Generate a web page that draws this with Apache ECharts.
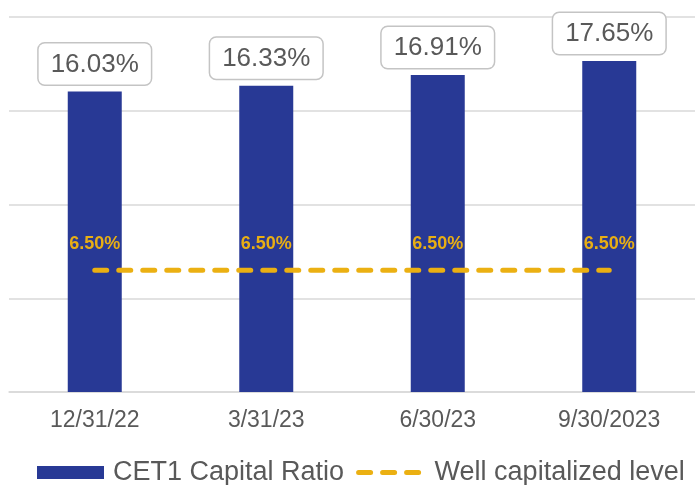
<!DOCTYPE html>
<html>
<head>
<meta charset="utf-8">
<script src="https://cdn.jsdelivr.net/npm/echarts@6/dist/echarts.min.js"></script>
<style>
    html, body { margin: 0; padding: 0; background: #ffffff; }
    #chart { width: 695px; height: 485px; }
</style>
</head>
<body>
<div id="chart"></div>
<script>
    // 季度日期
    var categories = ['12/31/22', '3/31/23', '6/30/23', '9/30/2023'];
    // CET1 比率
    var cet1Values = [16.03, 16.33, 16.91, 17.65];
    // 资本充足线
    var wellCapValues = [6.5, 6.5, 6.5, 6.5];

    var textColor = '#595959';
    var lineColor = '#EBB012';
    var fontFamily = 'Liberation Sans, Arial, sans-serif';
    var dashStyle = {
        color: lineColor,
        width: 5,
        type: [12, 12],
        cap: 'round'
    };

    var option = {
        backgroundColor: '#ffffff',
        animation: false,
        textStyle: {
            fontFamily: fontFamily
        },
        grid: {
            left: 9,
            right: 0,
            top: 17,
            bottom: 93,
            containLabel: false
        },
        legend: {
            left: 37,
            top: 459,
            padding: 0,
            itemWidth: 67,
            itemHeight: 13,
            itemGap: 12,
            textStyle: {
                fontSize: 27,
                color: textColor,
                fontFamily: fontFamily,
                padding: [0, 0, 0, 4]
            },
            data: [
                {name: 'CET1 Capital Ratio', icon: 'rect'},
                {
                    name: 'Well capitalized level',
                    lineStyle: dashStyle,
                    itemStyle: {opacity: 0}
                }
            ]
        },
        xAxis: {
            type: 'category',
            data: categories,
            axisTick: {
                show: false
            },
            axisLine: {
                lineStyle: {
                    color: '#d9d9d9',
                    width: 1.5
                }
            },
            axisLabel: {
                color: textColor,
                fontSize: 23,
                margin: 17,
                fontFamily: fontFamily
            }
        },
        yAxis: {
            type: 'value',
            min: 0,
            max: 20,
            interval: 5,
            axisLabel: {
                show: false
            },
            axisLine: {
                show: false
            },
            axisTick: {
                show: false
            },
            splitLine: {
                lineStyle: {
                    color: '#d9d9d9',
                    width: 1.5
                }
            }
        },
        series: [
            {
                name: 'CET1 Capital Ratio',
                type: 'bar',
                data: cet1Values,
                barWidth: 54,
                itemStyle: {
                    color: '#283995'
                },
                label: {
                    show: true,
                    position: 'top',
                    distance: 7,
                    fontSize: 26,
                    color: textColor,
                    fontFamily: fontFamily,
                    backgroundColor: '#ffffff',
                    borderColor: '#c4c4c4',
                    borderWidth: 1.5,
                    borderRadius: 6,
                    padding: [8, 12, 7, 12],
                    formatter: function (p) {
                        return p.value.toFixed(2) + '%';
                    }
                }
            },
            {
                name: 'Well capitalized level',
                type: 'line',
                data: wellCapValues,
                symbol: 'circle',
                symbolSize: 0,
                showSymbol: true,
                lineStyle: dashStyle,
                itemStyle: {
                    color: lineColor
                },
                label: {
                    show: true,
                    position: 'top',
                    distance: 17,
                    fontSize: 18,
                    fontWeight: 'bold',
                    color: '#E8AE14',
                    fontFamily: fontFamily,
                    formatter: function (p) {
                        return p.value.toFixed(2) + '%';
                    }
                }
            }
        ]
    };

    var chart = echarts.init(document.getElementById('chart'));
    chart.setOption(option);
</script>
</body>
</html>
